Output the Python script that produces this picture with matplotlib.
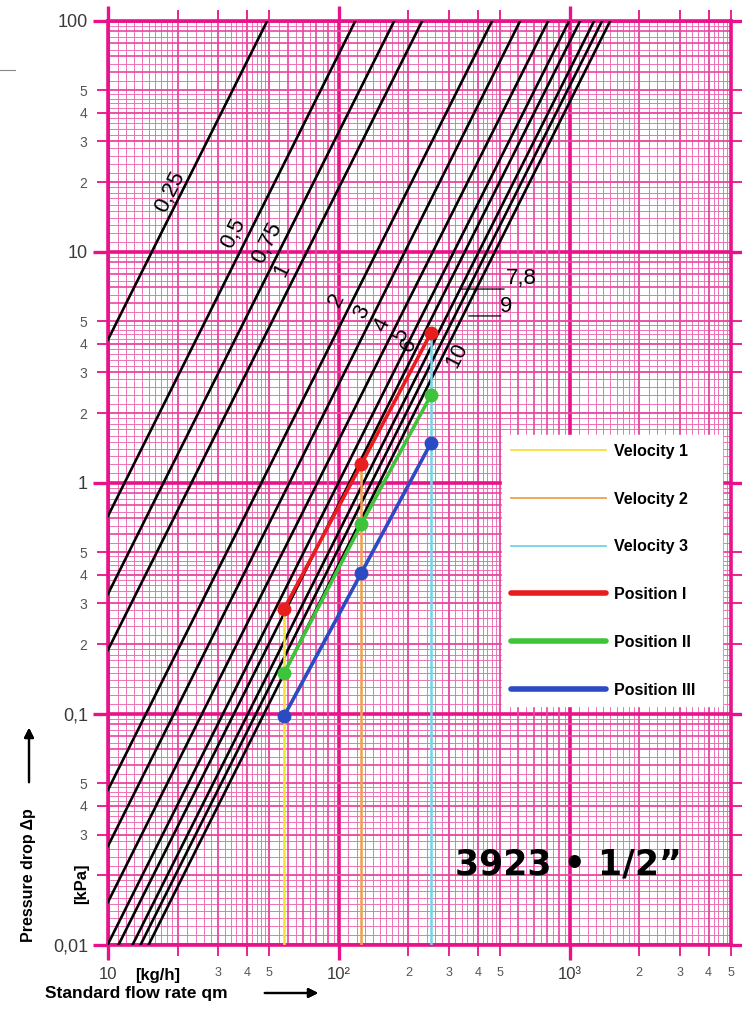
import numpy as np
import matplotlib
matplotlib.use("Agg")
import matplotlib.pyplot as plt
from matplotlib.lines import Line2D

plt.rcParams['font.family'] = ['Liberation Sans', 'DejaVu Sans']

# Kv curves: label and flow rate [kg/h] where the curve reaches 100 kPa
kv_labels = ['0,25', '0,5', '0,75', '1', '2', '3', '4', '5', '6', '7,8', '9', '10']
kv_q100 = [49, 118, 174, 230, 462, 611, 808, 996, 1111, 1278, 1384, 1500]

# measured flow rates and pressure drops
flow = [58, 125, 251]
pos1 = [0.285, 1.2, 4.46]
pos2 = [0.15, 0.66, 2.4]
pos3 = [0.098, 0.406, 1.49]

vel_names = ['Velocity 1', 'Velocity 2', 'Velocity 3']
vel_colors = ['#f5e13a', '#f0a04a', '#6fd6e8']
pos_names = ['Position I', 'Position II', 'Position III']
pos_colors = ['#e81e1e', '#3dc43a', '#2b4bc2']

xlim = (10, 5000)
ylim = (0.01, 100)
y_major = [0.01, 0.1, 1, 10, 100]
y_major_labels = ['0,01', '0,1', '1', '10', '100']
x_major = [10, 100, 1000]
x_major_labels = ['10', '10²', '10³']

PINK = '#e8138a'
PINK2 = '#e9449f'
PINK3 = '#ed69b1'

fig = plt.figure(figsize=(7.42, 10.13), dpi=100)
ax = fig.add_axes([0.1456, 0.0674, 0.8396, 0.9122])
ax.set_xscale('log')
ax.set_yscale('log')
ax.set_xlim(*xlim)
ax.set_ylim(*ylim)

# graph paper
fine = [m for m in np.round(np.concatenate([np.arange(1.1, 2, 0.1),
                                            np.arange(2.2, 5, 0.2),
                                            np.arange(5.5, 10, 0.5)]), 2)
        if m != int(m)]
mid = [6, 7, 8, 9]
xdec = [10, 100, 1000]
ydec = [0.01, 0.1, 1, 10]
xf = [d * m for d in xdec for m in fine if d * m < xlim[1]]
yf = [d * m for d in ydec for m in fine]
ax.vlines(xf, 0, 1, transform=ax.get_xaxis_transform(), color=PINK3, lw=0.65, zorder=0.5)
ax.hlines(yf, 0, 1, transform=ax.get_yaxis_transform(), color=PINK3, lw=0.65, zorder=0.5)
xm = [d * m for d in xdec for m in mid if d * m < xlim[1]]
ym = [d * m for d in ydec for m in mid]
ax.vlines(xm, 0, 1, transform=ax.get_xaxis_transform(), color=PINK2, lw=1.2, zorder=0.6)
ax.hlines(ym, 0, 1, transform=ax.get_yaxis_transform(), color=PINK2, lw=1.2, zorder=0.6)

# ticks
xminor = [d * m for d in xdec for m in [2, 3, 4, 5]]
xminor_labels = ['' if v == 20 else str(m) for v, m in zip(xminor, [2, 3, 4, 5] * 3)]
yminor = [d * m for d in ydec for m in [2, 3, 4, 5]]
yminor_labels = ['' if abs(v - 0.02) < 1e-9 else str(m) for v, m in zip(yminor, [2, 3, 4, 5] * 4)]
ax.set_xticks(x_major)
ax.set_xticklabels(x_major_labels)
ax.set_xticks(xminor, minor=True)
ax.set_xticklabels(xminor_labels, minor=True)
ax.set_yticks(y_major)
ax.set_yticklabels(y_major_labels)
ax.set_yticks(yminor, minor=True)
ax.set_yticklabels(yminor_labels, minor=True)

ax.grid(which='major', color=PINK, lw=2.6, zorder=0.7)
ax.grid(which='minor', color=PINK2, lw=1.3, zorder=0.6)
ax.set_axisbelow(True)
ax.tick_params(which='both', direction='out', top=True, right=True, color=PINK)
ax.tick_params(which='major', length=11, width=2.4)
ax.tick_params(which='minor', length=8, width=1.3)
ax.tick_params(axis='y', which='major', pad=3.5, labelsize=13, labelcolor='#3a3a3a')
ax.tick_params(axis='y', which='minor', pad=7, labelsize=10, labelcolor='#555555')
ax.tick_params(axis='x', which='major', pad=5, labelsize=12, labelcolor='#3a3a3a')
ax.tick_params(axis='x', which='minor', pad=8, labelsize=9, labelcolor='#555555')
for s in ax.spines.values():
    s.set_color(PINK)
    s.set_linewidth(2.6)

# Kv curves
q = np.logspace(np.log10(xlim[0]), np.log10(xlim[1]), 300)
for q100 in kv_q100:
    ax.plot(q, 100 * (q / q100) ** 2, color='black', lw=1.9, zorder=3)

# rotated curve labels: pressure drop where the label sits, horizontal pixel offset
label_dp = [18.1, 12.0, 10.9, 8.3, 6.2, 5.5, 4.8, 4.36, 3.95, None, None, 3.57]
label_dx = [-11, -16, -16, -15, -16, -13, -14, -11, -10, 0, 0, 14]
for lab, q100, dp, dx in zip(kv_labels, kv_q100, label_dp, label_dx):
    if dp is None:
        continue
    qq = q100 * np.sqrt(dp / 100)
    ax.annotate(lab, (qq, dp), xytext=(dx, 0), textcoords='offset pixels',
                rotation=63.4, rotation_mode='anchor', ha='center', va='center',
                fontsize=16, zorder=4)

# leader labels for 7,8 and 9
for lab, q100, dp, x0, x1, tx, ty in [('7,8', 1278, 6.89, 0, 44, 61, 11),
                                      ('9', 1384, 5.27, 14, 46, 51, 9)]:
    qq = q100 * np.sqrt(dp / 100)
    ax.annotate('', (qq, dp), xytext=(x1, 0), textcoords='offset pixels',
                xycoords='data', annotation_clip=False,
                arrowprops=dict(arrowstyle='-', lw=0.9, color='black',
                                shrinkA=0, shrinkB=x0 * 0.72))
    ax.annotate(lab, (qq, dp), xytext=(tx, ty), textcoords='offset pixels',
                ha='center', va='center', fontsize=16, zorder=4)

# velocity lines and positions
for f, top, c in zip(flow, pos1, vel_colors):
    ax.vlines(f, ylim[0], top, color=c, lw=1.8, zorder=4)
for vals, c in zip([pos1, pos2, pos3], pos_colors):
    ax.plot(flow, vals, color=c, lw=2.6, marker='o', ms=9, zorder=5)

handles = [Line2D([], [], color=c, lw=1.3) for c in vel_colors]
handles += [Line2D([], [], color=c, lw=4, solid_capstyle='round') for c in pos_colors]
leg = ax.legend(handles, vel_names + pos_names, loc='upper left', mode='expand',
                bbox_to_anchor=(0.632, 0.2518, 0.3536, 0.2998), handlelength=6.0,
                handletextpad=0.45, labelspacing=2.05, borderpad=0.55, borderaxespad=0,
                fancybox=False, framealpha=1, edgecolor='white',
                prop={'size': 11.5, 'weight': 'bold'})
leg.set_zorder(6)

fig.text(568 / 742, 1 - 864 / 1013, '3923 • 1/2”', ha='center', va='center',
         fontsize=25, fontweight='bold', family='DejaVu Sans')

# axis titles
fig.text(29 / 742, 1 - 875 / 1013, 'Pressure drop Δp', rotation=90, ha='center',
         va='center', fontsize=11.5, fontweight='bold')
fig.text(82 / 742, 1 - 884 / 1013, '[kPa]', rotation=90, ha='center',
         va='center', fontsize=12, fontweight='bold')
fig.text(158 / 742, 1 - 975 / 1013, '[kg/h]', ha='center', va='center',
         fontsize=12, fontweight='bold')
fig.text(45 / 742, 1 - 993 / 1013, 'Standard flow rate qm', ha='left',
         va='center', fontsize=12.5, fontweight='bold')
fig.add_artist(plt.annotate('', xy=(29 / 742, 1 - 725 / 1013), xytext=(29 / 742, 1 - 785 / 1013),
                            xycoords='figure fraction',
                            arrowprops=dict(arrowstyle='-|>', lw=1.6, color='black',
                                            mutation_scale=14)))
fig.add_artist(plt.annotate('', xy=(321 / 742, 1 - 993 / 1013), xytext=(262 / 742, 1 - 993 / 1013),
                            xycoords='figure fraction',
                            arrowprops=dict(arrowstyle='-|>', lw=1.6, color='black',
                                            mutation_scale=14)))
# small stray mark at the top left of the scan
fig.add_artist(Line2D([0, 15 / 742], [1 - 70 / 1013] * 2, color='#888888', lw=0.8))

fig.savefig('out.png', dpi=100)
